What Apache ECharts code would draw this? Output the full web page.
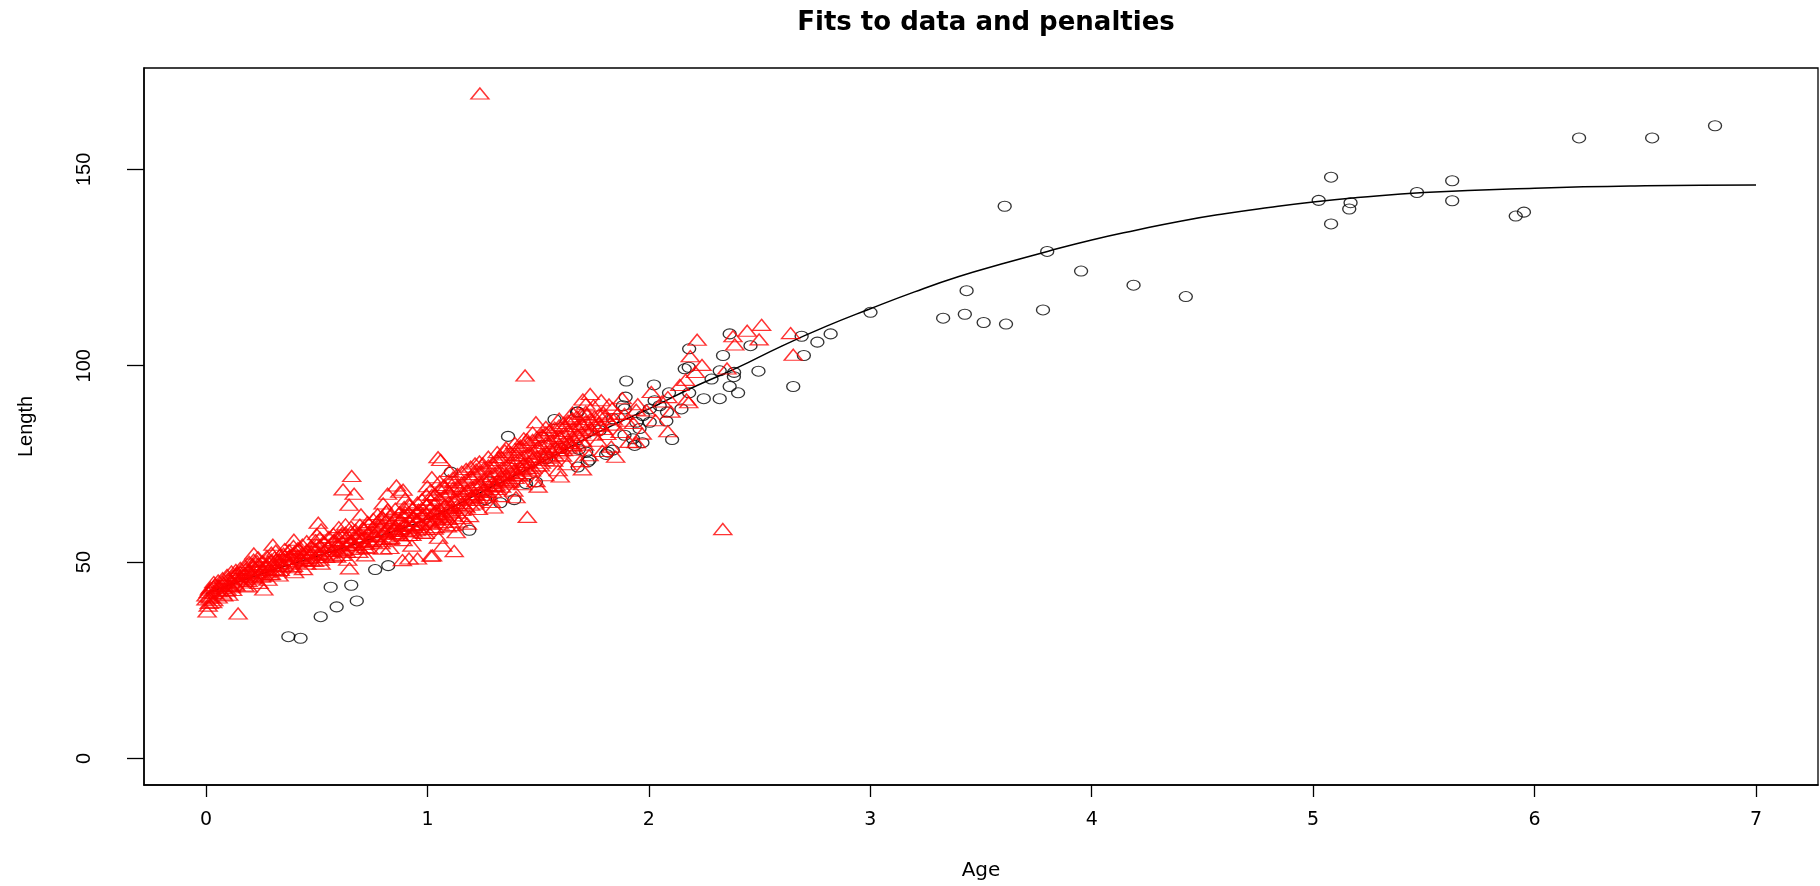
<!DOCTYPE html>
<html>
<head>
<meta charset="utf-8">
<title>Fits to data and penalties</title>
<script src="https://cdn.jsdelivr.net/npm/echarts@6/dist/echarts.min.js"></script>
<style>
  html, body { margin: 0; padding: 0; background: #fff; }
  #chart { width: 1820px; height: 886px; }
</style>
</head>
<body>
<div id="chart"></div>
<script>
// tick labels
const xTicks = [0, 1, 2, 3, 4, 5, 6, 7];
const yTicks = [0, 50, 100, 150];

// observed data (black circles): [age, length]
const dataPoints = [
  [0.372, 31.0], [0.427, 30.6], [0.518, 36.1], [0.590, 38.6], [0.681, 40.1],
  [0.563, 43.6], [0.656, 44.1], [0.764, 48.1], [0.823, 49.1],
  [1.106, 72.9], [1.189, 58.1], [1.261, 65.9], [1.329, 65.1], [1.392, 65.9],
  [1.279, 70.4], [1.445, 70.0], [1.490, 70.4], [1.364, 82.0], [1.518, 81.8],
  [1.536, 76.3], [1.574, 86.3], [1.604, 78.9], [1.675, 88.2], [1.679, 74.2],
  [1.684, 78.7], [1.717, 78.0], [1.724, 75.5], [1.807, 77.4], [1.837, 78.5],
  [1.891, 89.0], [1.895, 92.0], [1.898, 96.1], [1.928, 81.4], [1.936, 79.7],
  [1.679, 88.2], [1.732, 76.0], [1.777, 83.5], [1.815, 78.0], [1.838, 86.5],
  [1.883, 89.8], [1.890, 82.3], [1.943, 85.6], [1.958, 84.0], [1.971, 80.4],
  [1.973, 87.3], [2.004, 89.0], [2.004, 85.6], [2.023, 95.1], [2.026, 91.1],
  [2.049, 89.8], [2.079, 85.9], [2.082, 88.2], [2.091, 93.1], [2.105, 81.2],
  [2.147, 89.0], [2.162, 99.2], [2.180, 99.6], [2.182, 93.1], [2.182, 104.3],
  [2.248, 91.6], [2.283, 96.6], [2.320, 91.6], [2.320, 98.7], [2.335, 102.6],
  [2.365, 108.1], [2.365, 94.7], [2.384, 97.2], [2.385, 98.3], [2.403, 93.1],
  [2.459, 105.1], [2.495, 98.6], [2.652, 94.7], [2.690, 107.5], [2.700, 102.6],
  [2.761, 106.0], [2.821, 108.1], [3.001, 113.6],
  [3.329, 112.1], [3.427, 113.1], [3.435, 119.1], [3.512, 111.0], [3.613, 110.6],
  [3.607, 140.6], [3.780, 114.2], [3.799, 129.1], [3.952, 124.1], [4.189, 120.5],
  [4.425, 117.6], [5.025, 142.1], [5.081, 148.0], [5.081, 136.1], [5.169, 141.5],
  [5.163, 139.9], [5.469, 144.1], [5.628, 147.1], [5.628, 142.0], [5.915, 138.1],
  [5.952, 139.1], [6.201, 158.0], [6.531, 158.0], [6.815, 161.1]
];

// fitted curve: [age, length]
const fitCurve = [
  [0.0, 42.0], [0.25, 47.0], [0.5, 51.5], [0.75, 56.0], [1.0, 61.0],
  [1.25, 68.0], [1.5, 75.0], [1.7, 81.0], [1.85, 85.2], [2.0, 89.0],
  [2.2, 94.5], [2.4, 99.5], [2.6, 105.0], [2.8, 110.0], [3.0, 114.5],
  [3.2, 118.8], [3.4, 122.7], [3.6, 126.0], [3.8, 129.1], [4.0, 132.0],
  [4.2, 134.5], [4.4, 136.8], [4.6, 138.7], [4.8, 140.3], [5.0, 141.7],
  [5.2, 142.8], [5.5, 144.1], [6.0, 145.2], [6.5, 145.8], [7.0, 146.0]
];

// penalty points (red triangles): [age, length]
const penaltyPoints = [
  [1.237, 169.3], [1.441, 97.5], [1.451, 61.5], [2.334, 58.4],
  [0.005, 37.4], [0.145, 36.9], [0.103, 41.7], [0.261, 43.0], [0.216, 52.2],
  [0.302, 54.4], [0.397, 55.7], [0.507, 60.0], [0.648, 48.4], [0.658, 71.9],
  [0.619, 68.5], [0.669, 67.4], [0.646, 64.6], [0.820, 67.4], [0.860, 69.5],
  [0.875, 67.9], [0.797, 53.4], [0.887, 50.5], [0.955, 50.9], [1.016, 51.6],
  [1.069, 54.2], [1.121, 52.8], [1.048, 76.7], [1.060, 76.0], [0.890, 68.4],
  [0.917, 50.9], [1.023, 51.7],
  [1.735, 92.8], [1.702, 91.4], [1.785, 91.2], [1.943, 88.8], [2.011, 93.3],
  [2.086, 92.0], [2.180, 90.7], [2.166, 96.4], [2.187, 102.4], [2.218, 106.6],
  [2.086, 83.3], [1.943, 80.5], [2.353, 99.3], [2.380, 107.5], [2.388, 105.4],
  [2.444, 108.9], [2.509, 110.4], [2.498, 106.7], [2.640, 108.3], [2.652, 102.8],
  [0.00, 40.5], [0.01, 42.3], [0.02, 43.5], [0.00, 41.5], [0.03, 39.8],
  [0.04, 44.2], [0.01, 38.9], [0.05, 42.8], [0.02, 40.9], [0.06, 43.9],
  [0.08, 44.6], [0.09, 42.7], [0.10, 45.8], [0.11, 43.9], [0.12, 46.5],
  [0.13, 44.5], [0.14, 47.2], [0.15, 45.3], [0.08, 41.5], [0.12, 42.9],
  [0.17, 46.8], [0.18, 48.3], [0.19, 45.2], [0.20, 47.5], [0.21, 49.4],
  [0.22, 46.1], [0.23, 48.8], [0.24, 44.7], [0.25, 47.9], [0.19, 43.8], [0.23, 50.3],
  [0.27, 48.6], [0.28, 50.1], [0.29, 46.9], [0.30, 49.3], [0.31, 51.2],
  [0.32, 47.8], [0.33, 50.6], [0.34, 48.9], [0.35, 52.1], [0.28, 45.5], [0.33, 46.6],
  [0.37, 50.2], [0.38, 51.8], [0.39, 48.7], [0.40, 52.6], [0.41, 49.9],
  [0.42, 53.4], [0.43, 51.1], [0.44, 48.2], [0.45, 52.3], [0.40, 47.4],
  [0.47, 51.7], [0.48, 53.8], [0.49, 50.3], [0.50, 54.5], [0.51, 52.4],
  [0.52, 49.6], [0.53, 55.2], [0.54, 51.3], [0.55, 53.9], [0.50, 57.1], [0.52, 58.3],
  [0.57, 52.8], [0.58, 55.6], [0.59, 51.4], [0.60, 54.2], [0.61, 56.8],
  [0.62, 53.1], [0.63, 57.5], [0.64, 50.6], [0.65, 55.1], [0.60, 58.9], [0.63, 59.6],
  [0.67, 54.3], [0.68, 57.2], [0.69, 52.6], [0.70, 56.1], [0.71, 58.7],
  [0.72, 53.8], [0.73, 60.2], [0.74, 55.4], [0.75, 57.9], [0.70, 62.1], [0.72, 51.7],
  [0.77, 56.6], [0.78, 59.3], [0.79, 54.8], [0.80, 61.2], [0.81, 57.7],
  [0.82, 63.4], [0.83, 55.9], [0.84, 60.1], [0.85, 58.4], [0.80, 64.9], [0.83, 53.6],
  [0.87, 57.3], [0.88, 60.8], [0.89, 55.6], [0.90, 62.7], [0.91, 59.2],
  [0.92, 64.5], [0.93, 56.9], [0.94, 61.4], [0.95, 58.1], [0.90, 66.2], [0.93, 54.2], [0.96, 63.3],
  [0.97, 59.7], [0.98, 62.3], [0.99, 57.4], [1.00, 64.8], [1.01, 60.6],
  [1.02, 67.1], [1.03, 58.5], [1.04, 63.2], [1.05, 56.2], [1.00, 69.3], [1.02, 71.6], [1.04, 61.1],
  [1.07, 61.4], [1.08, 64.6], [1.09, 59.1], [1.10, 67.7], [1.11, 62.8],
  [1.12, 70.4], [1.13, 65.9], [1.14, 60.3], [1.15, 68.6], [1.10, 73.2], [1.13, 57.6], [1.08, 69.1],
  [1.17, 64.2], [1.18, 68.3], [1.19, 61.7], [1.20, 71.5], [1.21, 66.4],
  [1.22, 73.6], [1.23, 63.5], [1.24, 69.8], [1.25, 75.1], [1.18, 59.8], [1.22, 67.2],
  [1.27, 67.9], [1.28, 71.2], [1.29, 65.3], [1.30, 74.3], [1.31, 69.6],
  [1.32, 76.7], [1.33, 66.8], [1.34, 72.5], [1.35, 78.4], [1.30, 63.9], [1.33, 70.8],
  [1.37, 70.4], [1.38, 74.1], [1.39, 68.2], [1.40, 77.3], [1.41, 72.2],
  [1.42, 79.6], [1.43, 69.8], [1.44, 75.5], [1.45, 81.2], [1.40, 66.5], [1.43, 73.7],
  [1.47, 73.3], [1.48, 76.8], [1.49, 70.6], [1.50, 79.4], [1.51, 74.6],
  [1.52, 82.3], [1.53, 72.1], [1.54, 77.9], [1.55, 83.5], [1.50, 69.2], [1.49, 85.6],
  [1.57, 75.8], [1.58, 79.2], [1.59, 73.4], [1.60, 81.7], [1.61, 77.1],
  [1.62, 84.6], [1.63, 74.9], [1.64, 80.3], [1.65, 86.4], [1.60, 71.8],
  [1.67, 78.6], [1.68, 82.4], [1.69, 75.7], [1.70, 85.1], [1.71, 79.9],
  [1.72, 87.6], [1.73, 77.2], [1.74, 83.8], [1.75, 89.9], [1.70, 73.6],
  [1.77, 80.9], [1.78, 84.7], [1.79, 78.3], [1.80, 87.2], [1.81, 82.6],
  [1.82, 90.1], [1.83, 79.4], [1.84, 86.3], [1.85, 76.8],
  [1.87, 83.1], [1.89, 87.7], [1.91, 80.6], [1.93, 85.4], [1.95, 90.2],
  [1.97, 82.7], [1.99, 88.6], [1.88, 91.7],
  [2.03, 86.1], [2.06, 90.9], [2.10, 88.3], [2.14, 95.1], [2.17, 91.4],
  [2.21, 98.4], [2.24, 100.2],
  [0.015, 41.2], [0.015, 43.0], [0.015, 39.6], [0.035, 42.1], [0.035, 40.3],
  [0.035, 43.8], [0.035, 44.9], [0.055, 41.0], [0.055, 44.0], [0.055, 42.5],
  [0.055, 45.3], [0.075, 43.4], [0.075, 45.9], [0.075, 42.0], [0.075, 44.8],
  [0.095, 44.1], [0.095, 46.7], [0.095, 43.0], [0.115, 45.0], [0.115, 47.6],
  [0.115, 43.6], [0.135, 45.8], [0.135, 48.0], [0.135, 44.1], [0.135, 46.9],
  [0.155, 46.3], [0.155, 48.5], [0.155, 44.8], [0.155, 47.4], [0.175, 45.6],
  [0.175, 47.1], [0.175, 49.2], [0.175, 44.0], [0.195, 46.4], [0.195, 48.0],
  [0.195, 50.0], [0.215, 47.2], [0.215, 49.0], [0.215, 45.8], [0.215, 50.6],
  [0.235, 46.8], [0.235, 49.5], [0.235, 47.9], [0.235, 51.2], [0.255, 48.1],
  [0.255, 50.2], [0.255, 46.5], [0.275, 49.3], [0.275, 47.4], [0.275, 51.5],
  [0.295, 48.0], [0.295, 50.6], [0.295, 52.4], [0.295, 47.0], [0.315, 49.0],
  [0.315, 50.5], [0.315, 48.2], [0.315, 52.9], [0.335, 49.8], [0.335, 51.9],
  [0.335, 48.0], [0.355, 50.7], [0.355, 49.2], [0.355, 53.3], [0.355, 51.5],
  [0.375, 51.4], [0.375, 49.6], [0.375, 53.0], [0.395, 50.8], [0.395, 52.2],
  [0.395, 54.1], [0.395, 49.0], [0.415, 51.6], [0.415, 53.5], [0.415, 50.2],
  [0.435, 52.3], [0.435, 50.6], [0.435, 54.4], [0.455, 51.0], [0.455, 53.1],
  [0.455, 55.3], [0.455, 49.6], [0.475, 52.5], [0.475, 54.0], [0.475, 50.4],
  [0.495, 53.3], [0.495, 51.2], [0.495, 55.5], [0.515, 52.1], [0.515, 54.3],
  [0.515, 56.2], [0.515, 50.6], [0.535, 53.0], [0.535, 55.0], [0.535, 51.8],
  [0.555, 54.0], [0.555, 52.2], [0.555, 56.4], [0.575, 53.4], [0.575, 55.5],
  [0.575, 57.2], [0.575, 51.5], [0.595, 54.6], [0.595, 52.9], [0.595, 56.6],
  [0.615, 55.2], [0.615, 53.7], [0.615, 57.4], [0.615, 51.8], [0.635, 54.4],
  [0.635, 56.2], [0.635, 52.6], [0.655, 55.5], [0.655, 57.8], [0.655, 53.4],
  [0.655, 59.0], [0.675, 56.3], [0.675, 54.4], [0.675, 58.2], [0.695, 55.1],
  [0.695, 57.3], [0.695, 59.5], [0.695, 53.4], [0.715, 56.5], [0.715, 54.6],
  [0.715, 58.4], [0.735, 57.6], [0.735, 55.5], [0.735, 59.8], [0.735, 53.6],
  [0.755, 56.8], [0.755, 58.9], [0.755, 55.0], [0.755, 61.0], [0.775, 58.0],
  [0.775, 60.4], [0.775, 55.8], [0.775, 62.2], [0.795, 57.2], [0.795, 59.5],
  [0.795, 61.6], [0.795, 55.3], [0.815, 58.6], [0.815, 60.8], [0.815, 56.5],
  [0.815, 62.9], [0.835, 57.9], [0.835, 59.9], [0.835, 62.0], [0.835, 56.1],
  [0.855, 59.2], [0.855, 61.3], [0.855, 57.3], [0.855, 63.6], [0.875, 58.5],
  [0.875, 60.6], [0.875, 62.7], [0.875, 56.8], [0.895, 59.8], [0.895, 61.9],
  [0.895, 57.9], [0.895, 64.0], [0.915, 60.5], [0.915, 58.6], [0.915, 62.6],
  [0.915, 64.8], [0.915, 56.9], [0.935, 59.4], [0.935, 61.5], [0.935, 63.7],
  [0.935, 57.8], [0.955, 60.8], [0.955, 62.9], [0.955, 58.9], [0.955, 65.2],
  [0.975, 61.6], [0.975, 63.8], [0.975, 59.6], [0.975, 66.0], [0.975, 57.5],
  [0.995, 62.4], [0.995, 60.3], [0.995, 64.6], [0.995, 58.4], [0.995, 67.2],
  [1.015, 61.8], [1.015, 63.9], [1.015, 59.9], [1.015, 65.8], [1.015, 68.4],
  [1.035, 62.9], [1.035, 60.8], [1.035, 65.1], [1.035, 67.3], [1.035, 58.9],
  [1.055, 63.6], [1.055, 61.6], [1.055, 66.2], [1.055, 68.7], [1.055, 59.8],
  [1.055, 70.5], [1.075, 64.3], [1.075, 62.2], [1.075, 66.9], [1.075, 69.6],
  [1.075, 60.2], [1.095, 65.2], [1.095, 63.1], [1.095, 68.0], [1.095, 70.8],
  [1.095, 61.0], [1.115, 65.9], [1.115, 63.8], [1.115, 68.8], [1.115, 71.5],
  [1.115, 61.9], [1.115, 59.4], [1.135, 66.7], [1.135, 64.5], [1.135, 69.4],
  [1.135, 72.4], [1.135, 62.6], [1.155, 67.4], [1.155, 65.0], [1.155, 70.2],
  [1.155, 73.0], [1.155, 63.3], [1.155, 61.2], [1.175, 68.1], [1.175, 65.9],
  [1.175, 71.0], [1.175, 73.7], [1.175, 63.9], [1.195, 68.9], [1.195, 66.5],
  [1.195, 71.8], [1.195, 74.3], [1.195, 64.6], [1.215, 69.6], [1.215, 67.3],
  [1.215, 72.4], [1.215, 64.9], [1.215, 75.1], [1.235, 70.4], [1.235, 68.0],
  [1.235, 73.1], [1.235, 65.8], [1.235, 75.6], [1.255, 71.1], [1.255, 68.7],
  [1.255, 73.9], [1.255, 66.5], [1.275, 71.9], [1.275, 69.5], [1.275, 74.6],
  [1.275, 67.1], [1.275, 76.8], [1.295, 72.5], [1.295, 70.2], [1.295, 75.3],
  [1.295, 67.9], [1.315, 73.2], [1.315, 70.8], [1.315, 76.0], [1.315, 68.6],
  [1.315, 78.0], [1.335, 73.9], [1.335, 71.5], [1.335, 76.7], [1.335, 69.2],
  [1.355, 74.6], [1.355, 72.2], [1.355, 77.4], [1.355, 70.0], [1.355, 79.2],
  [1.375, 75.3], [1.375, 72.9], [1.375, 78.0], [1.375, 70.7], [1.395, 75.9],
  [1.395, 73.6], [1.395, 78.7], [1.395, 71.4], [1.395, 80.3], [1.415, 76.5],
  [1.415, 74.3], [1.415, 79.3], [1.415, 72.0], [1.435, 77.1], [1.435, 74.9],
  [1.435, 79.9], [1.435, 72.7], [1.435, 81.5], [1.455, 77.8], [1.455, 75.5],
  [1.455, 80.5], [1.455, 73.3], [1.475, 78.4], [1.475, 76.2], [1.475, 81.1],
  [1.475, 74.0], [1.475, 83.0], [1.495, 79.0], [1.495, 76.8], [1.495, 81.8],
  [1.495, 74.6], [1.515, 79.7], [1.515, 77.5], [1.515, 82.4], [1.515, 75.3],
  [1.535, 80.3], [1.535, 78.1], [1.535, 83.0], [1.535, 76.0], [1.535, 84.4],
  [1.555, 80.9], [1.555, 78.7], [1.555, 83.6], [1.555, 76.6], [1.575, 81.5],
  [1.575, 79.3], [1.575, 84.2], [1.575, 77.2], [1.595, 82.1], [1.595, 80.0],
  [1.595, 84.8], [1.595, 77.9], [1.595, 86.5], [1.615, 82.8], [1.615, 80.6],
  [1.615, 85.4], [1.615, 78.5], [1.635, 83.4], [1.635, 81.2], [1.635, 86.0],
  [1.635, 79.1], [1.655, 84.0], [1.655, 81.8], [1.655, 86.6], [1.655, 79.8],
  [1.655, 88.1], [1.675, 84.6], [1.675, 82.4], [1.675, 87.1], [1.675, 80.4],
  [1.695, 85.2], [1.695, 83.0], [1.695, 87.7], [1.715, 85.8], [1.715, 83.6],
  [1.715, 88.3], [1.715, 90.3], [1.735, 86.4], [1.735, 84.2], [1.755, 87.0],
  [1.755, 84.8], [1.775, 87.6], [1.775, 85.4], [1.795, 88.1], [1.795, 83.9],
  [1.815, 86.5], [1.835, 89.2], [1.835, 85.0], [1.860, 87.8], [1.900, 86.0],
  [0.25, 46.3], [0.45, 50.5], [0.65, 54.8], [0.85, 58.1], [0.90, 59.5],
  [0.95, 60.6], [1.05, 62.4], [1.10, 64.0], [1.20, 66.9], [1.25, 68.3],
  [1.30, 69.4], [1.35, 71.0], [1.40, 72.6], [1.45, 73.9], [1.55, 76.9],
  [1.60, 78.4], [1.65, 79.5], [1.70, 80.9], [1.75, 82.4]
];

const chart = echarts.init(document.getElementById('chart'));

const option = {
  backgroundColor: '#ffffff',
  animation: false,
  title: {
    text: 'Fits to data and penalties',
    left: 981,
    textAlign: 'center',
    top: 5,
    textStyle: {
      fontFamily: 'DejaVu Sans',
      fontWeight: 'bold',
      fontSize: 26,
      color: '#000'
    }
  },
  grid: {
    left: 144,
    right: 2,
    top: 68,
    bottom: 99,
    show: true,
    borderColor: '#000',
    borderWidth: 1.3,
    backgroundColor: 'transparent'
  },
  xAxis: {
    type: 'value',
    min: -0.28,
    max: 7.28,
    name: 'Age',
    nameLocation: 'middle',
    nameGap: 76,
    nameTextStyle: { fontFamily: 'DejaVu Sans', fontSize: 20, color: '#000' },
    axisLine: { show: true, onZero: false, lineStyle: { color: '#000', width: 1.5 } },
    axisTick: { show: true, length: 12, customValues: xTicks, lineStyle: { color: '#000', width: 1.3 } },
    axisLabel: {
      customValues: xTicks,
      margin: 26,
      fontFamily: 'DejaVu Sans',
      fontSize: 19,
      color: '#000'
    },
    splitLine: { show: false }
  },
  yAxis: {
    type: 'value',
    min: -6.76,
    max: 175.8,
    name: 'Length',
    nameLocation: 'middle',
    nameGap: 108,
    nameTextStyle: { fontFamily: 'Liberation Sans', fontSize: 20, color: '#000' },
    axisLine: { show: true, onZero: false, lineStyle: { color: '#000', width: 1.5 } },
    axisTick: { show: true, length: 17, customValues: yTicks, lineStyle: { color: '#000', width: 1.3 } },
    axisLabel: {
      customValues: yTicks,
      rotate: 90,
      margin: 50,
      fontFamily: 'Liberation Sans',
      fontSize: 20,
      color: '#000'
    },
    splitLine: { show: false }
  },
  series: [
    {
      name: 'data',
      type: 'scatter',
      z: 1,
      data: dataPoints,
      symbol: 'circle',
      symbolSize: [13, 10],
      itemStyle: { color: 'rgba(0,0,0,0)', borderColor: '#000', borderWidth: 1.2 },
      emphasis: { disabled: true }
    },
    {
      name: 'fit',
      type: 'line',
      z: 1,
      data: fitCurve,
      smooth: true,
      showSymbol: false,
      symbol: 'none',
      lineStyle: { color: '#000', width: 1.5 },
      emphasis: { disabled: true }
    },
    {
      name: 'penalties',
      type: 'scatter',
      z: 3,
      data: penaltyPoints,
      symbol: 'triangle',
      symbolSize: [18, 11],
      itemStyle: { color: 'rgba(0,0,0,0)', borderColor: '#ff0000', borderWidth: 1.4 },
      emphasis: { disabled: true }
    }
  ]
};

chart.setOption(option);
</script>
</body>
</html>
